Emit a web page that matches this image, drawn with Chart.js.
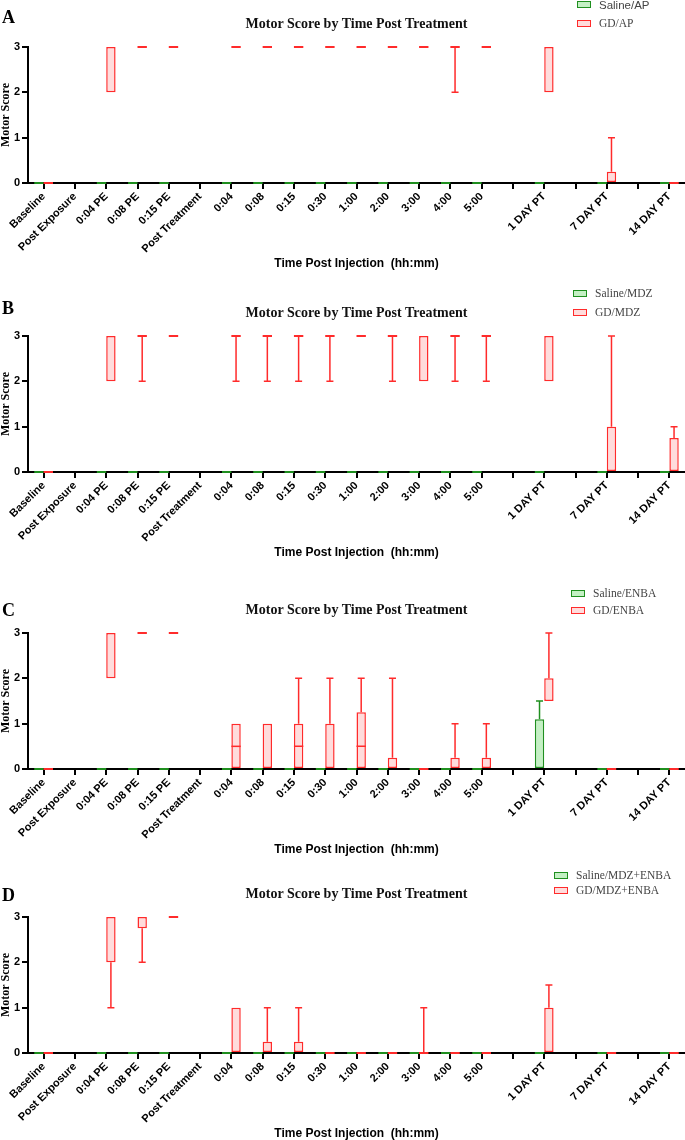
<!DOCTYPE html>
<html>
<head>
<meta charset="utf-8">
<script src="https://cdn.jsdelivr.net/npm/chart.js@4.4.0/dist/chart.umd.min.js"></script>
<style>
  body { margin: 0; width: 685px; height: 1140px; overflow: hidden; background: #fff; position: relative; }
  .panel { position: absolute; left: 0; width: 685px; height: 272px; }
  .panel canvas { position: absolute; left: 0; top: 0; }
  .letter { position: absolute; left: 2px; font: bold 18px "Liberation Serif"; line-height: 18px; color: #000; }
  .title { position: absolute; left: 28px; width: 657px; text-align: center; font: bold 14px "Liberation Serif"; line-height: 14px; color: #111; }
  .legend { position: absolute; font: 11.5px "Liberation Serif"; color: #444; }
  .legend div { position: absolute; left: 0; white-space: nowrap; line-height: 14px; }
  .legend span { display: inline-block; vertical-align: middle; width: 12px; height: 5px; margin: -2px 8px 0 0; border: 1.5px solid; }
  .legend .sans { font-family: "Liberation Sans"; }
</style>
</head>
<body>
<script>
// categories ('' = empty tick)
const labels = ["Baseline", "Post Exposure", "0:04 PE", "0:08 PE", "0:15 PE", "Post Treatment",
  "0:04", "0:08", "0:15", "0:30", "1:00", "2:00", "3:00", "4:00", "5:00", "",
  "1 DAY PT", "", "7 DAY PT", "", "14 DAY PT"];
const yTicks = [0, 1, 2, 3];

// each point: [min, q1, median, q3, max], null = no data
const salineAP = [[0,0,0,0,0], null, [0,0,0,0,0], [0,0,0,0,0], [0,0,0,0,0], null,
  [0,0,0,0,0], [0,0,0,0,0], [0,0,0,0,0], [0,0,0,0,0], [0,0,0,0,0], [0,0,0,0,0], [0,0,0,0,0], [0,0,0,0,0], [0,0,0,0,0], null,
  [0,0,0,0,0], null, [0,0,0,0,0], null, [0,0,0,0,0]];
const gdAP = [[0,0,0,0,0], null, [2,2,3,3,3], [3,3,3,3,3], [3,3,3,3,3], null,
  [3,3,3,3,3], [3,3,3,3,3], [3,3,3,3,3], [3,3,3,3,3], [3,3,3,3,3], [3,3,3,3,3], [3,3,3,3,3], [2,3,3,3,3], [3,3,3,3,3], null,
  [2,2,3,3,3], null, [0,0,0,0.25,1], null, [0,0,0,0,0]];

const salineMDZ = [[0,0,0,0,0], null, [0,0,0,0,0], [0,0,0,0,0], [0,0,0,0,0], null,
  [0,0,0,0,0], [0,0,0,0,0], [0,0,0,0,0], [0,0,0,0,0], [0,0,0,0,0], [0,0,0,0,0], [0,0,0,0,0], [0,0,0,0,0], [0,0,0,0,0], null,
  [0,0,0,0,0], null, [0,0,0,0,0], null, [0,0,0,0,0]];
const gdMDZ = [[0,0,0,0,0], null, [2,2,3,3,3], [2,3,3,3,3], [3,3,3,3,3], null,
  [2,3,3,3,3], [2,3,3,3,3], [2,3,3,3,3], [2,3,3,3,3], [3,3,3,3,3], [2,3,3,3,3], [2,2,3,3,3], [2,3,3,3,3], [2,3,3,3,3], null,
  [2,2,3,3,3], null, [0,0,0,1,3], null, [0,0,0,0.75,1]];

const salineENBA = [[0,0,0,0,0], null, [0,0,0,0,0], [0,0,0,0,0], [0,0,0,0,0], null,
  [0,0,0,0,0], [0,0,0,0,0], [0,0,0,0,0], [0,0,0,0,0], [0,0,0,0,0], [0,0,0,0,0], [0,0,0,0,0], [0,0,0,0,0], [0,0,0,0,0], null,
  [0,0,0,1.1,1.5], null, [0,0,0,0,0], null, [0,0,0,0,0]];
const gdENBA = [[0,0,0,0,0], null, [2,2,3,3,3], [3,3,3,3,3], [3,3,3,3,3], null,
  [0,0,0.5,1,1], [0,0,0,1,1], [0,0,0.5,1,2], [0,0,0,1,2], [0,0,0.5,1.25,2], [0,0,0,0.25,2], [0,0,0,0,0], [0,0,0,0.25,1], [0,0,0,0.25,1], null,
  [1.5,1.5,1.5,2,3], null, [0,0,0,0,0], null, [0,0,0,0,0]];

const salineMDZENBA = [[0,0,0,0,0], null, [0,0,0,0,0], [0,0,0,0,0], [0,0,0,0,0], null,
  [0,0,0,0,0], [0,0,0,0,0], [0,0,0,0,0], [0,0,0,0,0], [0,0,0,0,0], [0,0,0,0,0], [0,0,0,0,0], [0,0,0,0,0], [0,0,0,0,0], null,
  [0,0,0,0,0], null, [0,0,0,0,0], null, [0,0,0,0,0]];
const gdMDZENBA = [[0,0,0,0,0], null, [1,2,3,3,3], [2,2.75,3,3,3], [3,3,3,3,3], null,
  [0,0,0,1,1], [0,0,0,0.25,1], [0,0,0,0.25,1], [0,0,0,0,0], [0,0,0,0,0], [0,0,0,0,0], [0,0,0,0,1], [0,0,0,0,0], [0,0,0,0,0], null,
  [0,0,0,1,1.5], null, [0,0,0,0,0], null, [0,0,0,0,0]];

const GREEN = { line: "#1f8f1f", fill: "#c4f0c4" };
const RED = { line: "#ff2b2b", fill: "#ffdcdc" };

const panels = [
  { letter: "A", top: 0, letterTop: 8, legendX: 577, legendRows: [-2, 16], names: ["Saline/AP", "GD/AP"], data: [salineAP, gdAP], sansFirst: true },
  { letter: "B", top: 289, letterTop: 10, legendX: 573, legendRows: [-3, 16], names: ["Saline/MDZ", "GD/MDZ"], data: [salineMDZ, gdMDZ] },
  { letter: "C", top: 586, letterTop: 15, legendX: 571, legendRows: [0, 17], names: ["Saline/ENBA", "GD/ENBA"], data: [salineENBA, gdENBA] },
  { letter: "D", top: 870, letterTop: 16, legendX: 554, legendRows: [-2, 13], names: ["Saline/MDZ+ENBA", "GD/MDZ+ENBA"], data: [salineMDZENBA, gdMDZENBA] }
];

// whiskers, medians and flat boxes drawn on top of the bars
const boxPlot = {
  id: "boxPlot",
  afterDatasetsDraw(chart) {
    const ctx = chart.ctx;
    const y = chart.scales.y;
    chart.data.datasets.forEach((ds, i) => {
      chart.getDatasetMeta(i).data.forEach((bar, j) => {
        const s = ds.stats[j];
        if (!s) return;
        const [min, q1, med, q3, max] = s;
        const x = bar.x, half = bar.width / 2, cap = 3.5;
        ctx.save();
        ctx.strokeStyle = ds.borderColor;
        if (q1 === q3) {
          ctx.lineWidth = 2;
          ctx.beginPath();
          ctx.moveTo(x - half, y.getPixelForValue(q1));
          ctx.lineTo(x + half, y.getPixelForValue(q1));
          ctx.stroke();
        }
        ctx.lineWidth = 1.5;
        ctx.beginPath();
        if (med > q1 && med < q3) {
          ctx.moveTo(x - half, y.getPixelForValue(med));
          ctx.lineTo(x + half, y.getPixelForValue(med));
        }
        if (max > q3) {
          ctx.moveTo(x, y.getPixelForValue(q3));
          ctx.lineTo(x, y.getPixelForValue(max));
          ctx.moveTo(x - cap, y.getPixelForValue(max));
          ctx.lineTo(x + cap, y.getPixelForValue(max));
        }
        if (min < q1) {
          ctx.moveTo(x, y.getPixelForValue(q1));
          ctx.lineTo(x, y.getPixelForValue(min));
          ctx.moveTo(x - cap, y.getPixelForValue(min));
          ctx.lineTo(x + cap, y.getPixelForValue(min));
        }
        ctx.stroke();
        ctx.restore();
      });
    });
  }
};

function makeDataset(name, stats, col) {
  return {
    label: name,
    data: stats.map(s => (s ? [s[1], s[3]] : null)),
    stats: stats,
    backgroundColor: col.fill,
    borderColor: col.line,
    borderWidth: 1.5,
    borderSkipped: false,
    categoryPercentage: 0.6,
    barPercentage: 1,
    clip: false
  };
}

panels.forEach(p => {
  const div = document.createElement("div");
  div.className = "panel";
  div.style.top = p.top + "px";
  div.innerHTML =
    '<canvas width="685" height="272"></canvas>' +
    '<div class="letter" style="top:' + p.letterTop + 'px">' + p.letter + '</div>' +
    '<div class="title" style="top:17px">Motor Score by Time Post Treatment</div>' +
    '<div class="legend" style="left:' + p.legendX + 'px;top:0">' +
      '<div class="' + (p.sansFirst ? "sans" : "") + '" style="top:' + p.legendRows[0] + 'px"><span style="border-color:' + GREEN.line + ';background:' + GREEN.fill + '"></span>' + p.names[0] + '</div>' +
      '<div style="top:' + p.legendRows[1] + 'px"><span style="border-color:' + RED.line + ';background:' + RED.fill + '"></span>' + p.names[1] + '</div>' +
    '</div>';
  document.body.appendChild(div);

  new Chart(div.querySelector("canvas"), {
    type: "bar",
    data: {
      labels: labels,
      datasets: [makeDataset(p.names[0], p.data[0], GREEN), makeDataset(p.names[1], p.data[1], RED)]
    },
    options: {
      responsive: false,
      animation: false,
      devicePixelRatio: 1,
      layout: { padding: { top: 47, right: 0, bottom: 0, left: 0 } },
      plugins: { legend: { display: false }, tooltip: { enabled: false } },
      scales: {
        x: {
          offset: true,
          afterFit: scale => { scale.height = 89; },
          grid: { offset: false, drawOnChartArea: false, color: "#000", lineWidth: 2, tickLength: 6 },
          border: { color: "#000", width: 2 },
          ticks: {
            autoSkip: false, maxRotation: 45, minRotation: 45, padding: 1, color: "#000",
            font: { family: "Liberation Sans", size: 11, weight: "bold" }
          },
          title: {
            display: true, text: "Time Post Injection  (hh:mm)", color: "#000",
            padding: { top: 0, bottom: 1 },
            font: { family: "Liberation Sans", size: 12, weight: "bold" }
          }
        },
        y: {
          min: 0, max: 3,
          afterFit: scale => { scale.width = 28; },
          afterBuildTicks: scale => { scale.ticks = yTicks.map(v => ({ value: v })); },
          grid: { drawOnChartArea: false, color: "#000", lineWidth: 2, tickLength: 6 },
          border: { color: "#000", width: 2 },
          ticks: {
            padding: 2, color: "#000",
            font: { family: "Liberation Sans", size: 11, weight: "bold" }
          },
          title: {
            display: true, text: "Motor Score", color: "#000",
            padding: 0,
            font: { family: "Liberation Serif", size: 12, weight: "bold", lineHeight: 1 }
          }
        }
      }
    },
    plugins: [boxPlot]
  });
});
</script>
</body>
</html>
